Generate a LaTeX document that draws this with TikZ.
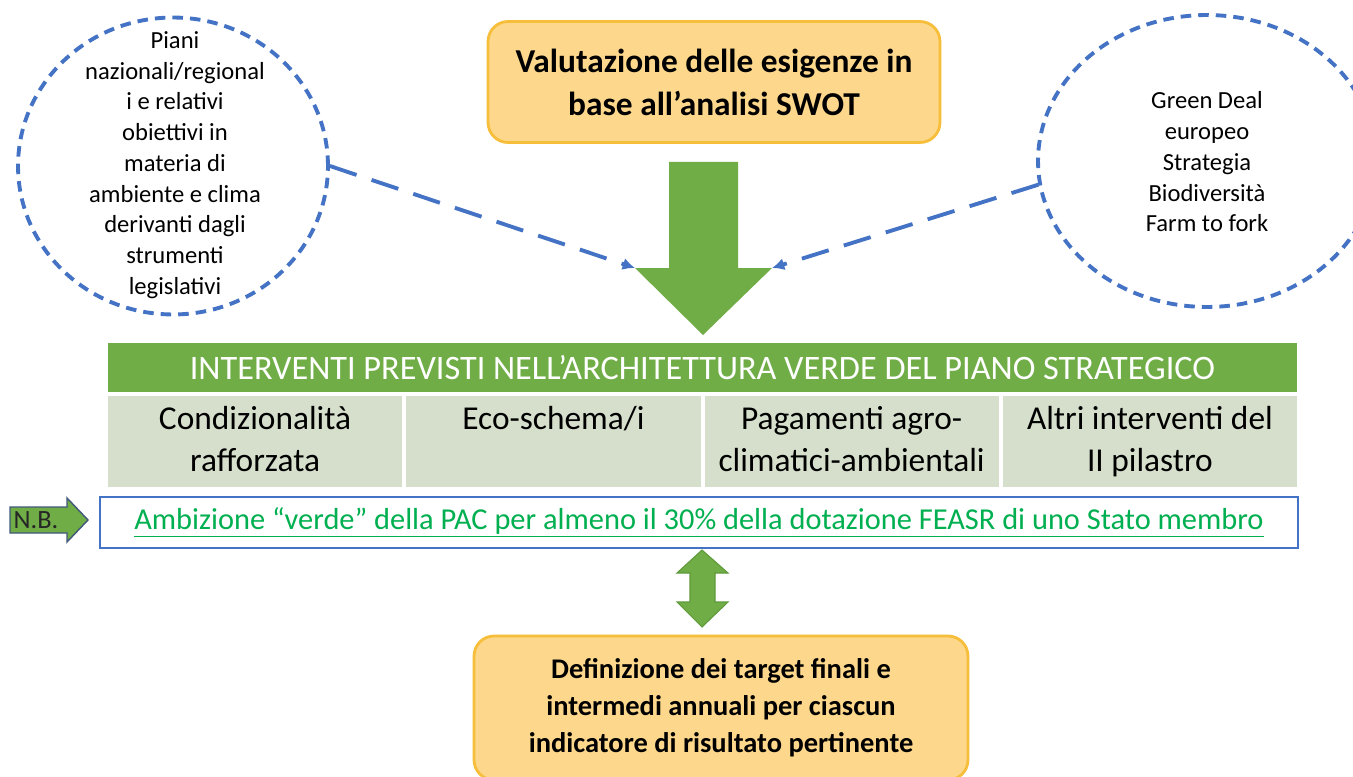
\documentclass[tikz,border=0pt]{standalone}
\usepackage{fontspec}
\setmainfont{Carlito}
\usetikzlibrary{shapes.geometric,arrows.meta,positioning}

\definecolor{pacgreen}{HTML}{70AD47}
\definecolor{pacgreendark}{HTML}{5E9A3A}
\definecolor{dashblue}{HTML}{4472C4}
\definecolor{boxfill}{HTML}{FDD88C}
\definecolor{boxline}{HTML}{F6BE3A}
\definecolor{cellfill}{HTML}{D5DFCB}
\definecolor{nbtext}{HTML}{00B050}
\definecolor{nbline}{HTML}{41587A}

\tikzset{
  bubble/.style={ellipse, draw=dashblue, line width=2.2pt, dash pattern=on 6pt off 4pt, inner sep=0pt},
  bubbletext/.style={align=center, inner sep=0pt, font=\fontsize{14}{17.5}\selectfont},
  orangebox/.style={draw=boxline, line width=1.6pt, fill=boxfill, rounded corners=0.4cm, align=center},
  cell/.style={fill=cellfill, minimum width=5.885cm, minimum height=1.82cm, inner sep=0pt},
  celltext/.style={anchor=north, align=center, inner sep=0pt, font=\fontsize{19}{24}\selectfont},
  link/.style={dashblue, line width=2.2pt, dash pattern=on 16pt off 9pt, -{Latex[length=7pt,width=7pt]}},
}

\begin{document}
\begin{tikzpicture}[x=0.02cm, y=-0.02cm]
    \fill[white] (0,0) rectangle (1353,777);
    \useasboundingbox (0,0) rectangle (1353,777);

    % side notes
    \node[bubble, minimum width=6.2cm, minimum height=5.94cm] (leftcirc) at (173,166) {};
    \node[bubbletext] (lefttext) at (175,165) {Piani\\nazionali/regional\\i e relativi\\obiettivi in\\materia di\\ambiente e clima\\derivanti dagli\\strumenti\\legislativi};
    \node[bubble, minimum width=6.76cm, minimum height=5.84cm] (rightcirc) at (1207,161) {};
    \node[bubbletext] (righttext) at (1207,162) {Green Deal\\europeo\\Strategia\\Biodiversità\\Farm to fork};

    % top and bottom boxes
    \node[orangebox, minimum width=9.04cm, minimum height=2.42cm, font=\bfseries\fontsize{19}{24.5}\selectfont] (swot) at (714,82) {Valutazione delle esigenze in\\base all’analisi SWOT};
    \node[orangebox, minimum width=9.88cm, minimum height=2.88cm, font=\bfseries\fontsize{16.2}{21}\selectfont] (target) at (721,708) {Definizione dei target finali e\\intermedi annuali per ciascun\\indicatore di risultato pertinente};

    % big arrow
    \coordinate (headL) at (635,268);
    \coordinate (headR) at (772,268);
    \fill[pacgreen] (669,162) -- (738,162) -- (738,268) -- (headR) -- (703,335) -- (headL) -- (669,268) -- cycle;
    \draw[link] (leftcirc.east) -- (headL);
    \draw[link] (rightcirc.188) -- (headR);

    % green architecture
    \node[fill=pacgreen, minimum width=23.78cm, minimum height=0.98cm, text=white, font=\fontsize{19.5}{22}\selectfont] (header) at (702.5,367.5) {INTERVENTI PREVISTI NELL’ARCHITETTURA VERDE DEL PIANO STRATEGICO};
    \node[cell] (c1) at (255.1,441.5) {};
    \node[cell] (c2) at (553.4,441.5) {};
    \node[cell] (c3) at (851.6,441.5) {};
    \node[cell] (c4) at (1149.9,441.5) {};
    \node[celltext] (t1) at ([yshift=-0.2cm]c1.north) {Condizionalità\\rafforzata};
    \node[celltext] (t2) at ([yshift=-0.2cm]c2.north) {Eco-schema/i};
    \node[celltext] (t3) at ([yshift=-0.2cm]c3.north) {Pagamenti agro-\\climatici-ambientali};
    \node[celltext] (t4) at ([yshift=-0.2cm]c4.north) {Altri interventi del\\II pilastro};

    % N.B.
    \node[draw=dashblue, line width=1.2pt, minimum width=23.96cm, minimum height=1.02cm, text=nbtext, font=\fontsize{17.3}{20}\selectfont] (nb) at (699,522.5) {\underline{Ambizione “verde” della PAC per almeno il 30\% della dotazione FEASR di uno Stato membro}};
    \draw[nbline, fill=pacgreen, line width=0.8pt] (10,507) -- (67,507) -- (67,498) -- (88,520) -- (67,542) -- (67,533) -- (10,533) -- cycle;
    \node[text=black!85, inner sep=0pt, font=\fontsize{15}{18}\selectfont] (nblabel) at (36,520) {N.B.};

    % double arrow
    \fill[pacgreen, draw=pacgreendark, line width=0.6pt] (702,550) -- (728,573) -- (715,573) -- (715,602) -- (728,602) -- (702,627) -- (677,602) -- (690,602) -- (690,573) -- (677,573) -- cycle;
\end{tikzpicture}
\end{document}
